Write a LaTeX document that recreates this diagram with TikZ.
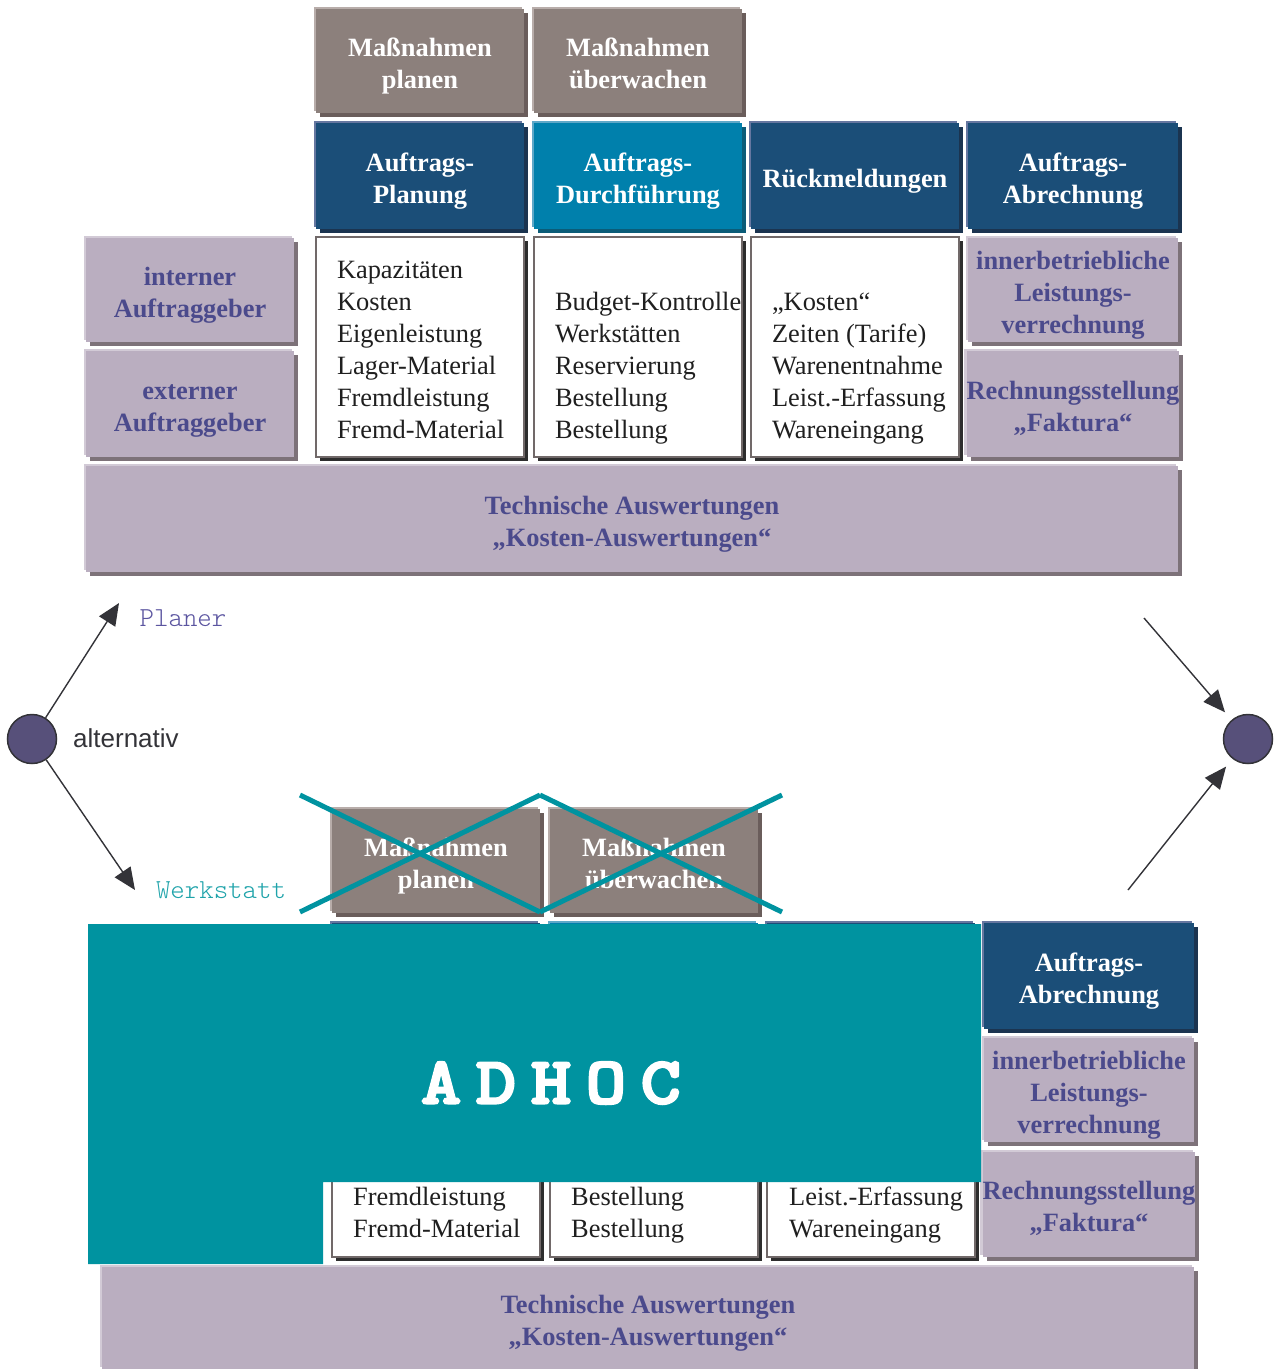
\documentclass[tikz,border=0pt]{standalone}
\usepackage{fontspec}
\setmainfont{Liberation Serif}
\setsansfont{Liberation Sans}
\newfontfamily\adhocfont{lmmonolt10-bold.otf}[FakeBold=3]
\newfontfamily\lightmono{lmmonolt10-regular.otf}
\usetikzlibrary{shadows,arrows.meta}
\definecolor{mfill}{HTML}{8C807C}
\definecolor{medge}{HTML}{B8ADAA}
\definecolor{mshadow}{HTML}{6A5D5B}
\definecolor{bfill}{HTML}{1B4E78}
\definecolor{bedge}{HTML}{6677A0}
\definecolor{bshadow}{HTML}{1B3450}
\definecolor{cfill}{HTML}{0080AC}
\definecolor{cedge}{HTML}{5EA8C8}
\definecolor{cshadow}{HTML}{0B5C78}
\definecolor{lfill}{HTML}{BAAEC0}
\definecolor{ledge}{HTML}{D2CAD6}
\definecolor{lshadow}{HTML}{7D7279}
\definecolor{ltext}{HTML}{4B4A8C}
\definecolor{wborder}{HTML}{716969}
\definecolor{wshadow}{HTML}{2E2E2E}
\definecolor{tealc}{HTML}{0093A0}
\definecolor{circc}{HTML}{57507A}
\definecolor{darkc}{HTML}{333338}
\definecolor{planerc}{HTML}{5B55A0}
\definecolor{werkc}{HTML}{1FA3AA}
% centred block of lines, lowered a little inside its box
\newcommand\ctext[1]{\raisebox{-5pt}[\height][\depth]{\begin{tabular}{@{}c@{}}#1\end{tabular}}}
% left-aligned block of lines for the white boxes
\newcommand\ltext[1]{\makebox[166pt][l]{\raisebox{-5pt}[\height][\depth]{\begin{tabular}{@{}l@{}}#1\end{tabular}}}}
\newcommand\plines[1]{\begin{tabular}{@{}l@{}}#1\end{tabular}}
\tikzset{
  basebox/.style={rectangle, inner sep=0pt, outer sep=0pt,
    font=\bfseries\fontsize{26.4}{32}\selectfont},
  shadowed/.style n args={2}{general shadow={fill=#1, shadow xshift=4pt, shadow yshift=-4pt},
    general shadow={fill=#2, shadow xshift=-2.5pt, shadow yshift=2.5pt}},
  mbox/.style={basebox, fill=mfill, text=white, shadowed={mshadow}{medge}},
  bbox/.style={basebox, fill=bfill, text=white, shadowed={bshadow}{bedge}},
  cbox/.style={basebox, fill=cfill, text=white, shadowed={cshadow}{cedge}},
  lbox/.style={basebox, fill=lfill, text=ltext, shadowed={lshadow}{ledge}},
  wbox/.style={rectangle, outer sep=0pt, inner sep=0pt, fill=white,
    draw=wborder, line width=2.5pt, minimum width=208pt, text=black!88,
    font=\fontsize{26.4}{32}\selectfont,
    general shadow={fill=wshadow, shadow xshift=4pt, shadow yshift=-4pt}},
  wtext/.style={anchor=west, inner sep=0pt, text=black!88,
    font=\fontsize{26.4}{32}\selectfont},
  arr/.style={draw=darkc, line width=1.4pt, -{Triangle[length=22pt, width=19pt]}},
  dot/.style={circle, minimum size=49pt, inner sep=0pt, fill=circc, draw=darkc, line width=1.5pt},
  crossline/.style={draw=tealc, line width=5pt},
}
\begin{document}
\begin{tikzpicture}[x=1pt,y=-1pt]
\useasboundingbox (0,0) rectangle (1275,1369);

% ---------- upper part ----------
\node[mbox, minimum width=208pt, minimum height=104pt] (mp) at (420,61) {\ctext{Maßnahmen\\planen}};
\node[mbox, minimum width=208pt, minimum height=104pt] (mu) at (638,61) {\ctext{Maßnahmen\\überwachen}};

\node[bbox, minimum width=208pt, minimum height=106pt] (ap) at (420,176) {\ctext{Auftrags-\\Planung}};
\node[cbox, minimum width=208pt, minimum height=106pt] (ad) at (638,176) {\ctext{Auftrags-\\Durchführung}};
\node[bbox, minimum width=208pt, minimum height=106pt] (rm) at (855,176) {\ctext{Rückmeldungen}};
\node[bbox, minimum width=210pt, minimum height=106pt] (aa) at (1073,176) {\ctext{Auftrags-\\Abrechnung}};

\node[lbox, minimum width=208pt, minimum height=104pt] (ia) at (190,290) {\ctext{interner\\Auftraggeber}};
\node[lbox, minimum width=208pt, minimum height=106pt] (ea) at (190,404) {\ctext{externer\\Auftraggeber}};

\node[wbox, minimum height=220pt] (w1) at (420,347) {\ltext{Kapazitäten\\Kosten\\Eigenleistung\\Lager-Material\\Fremdleistung\\Fremd-Material}};
\node[wbox, minimum height=220pt] (w2) at (638,347) {\ltext{\\Budget-Kontrolle\\Werkstätten\\Reservierung\\Bestellung\\Bestellung}};
\node[wbox, minimum height=220pt] (w3) at (855,347) {\ltext{\\„Kosten“\\Zeiten (Tarife)\\Warenentnahme\\Leist.-Erfassung\\Wareneingang}};

\node[lbox, minimum width=210pt, minimum height=104pt] (il) at (1073,290) {\ctext{innerbetriebliche\\Leistungs-\\verrechnung}};
\node[lbox, minimum width=210pt, minimum height=106pt] (rf) at (1073,404) {\ctext{Rechnungsstellung\\„Faktura“}};

\node[lbox, minimum width=1092pt, minimum height=106pt] (ta) at (632,519) {\ctext{Technische Auswertungen\\„Kosten-Auswertungen“}};

% ---------- alternative connectors ----------
\node[dot] (lc) at (32,739) {};
\node[dot] (rc) at (1248,739) {};
\coordinate (ptip) at (119,603);
\coordinate (wtip) at (135,890);
\coordinate (ru) at (1144,618);
\coordinate (rl) at (1128,890);
\draw[arr] (lc) -- (ptip);
\draw[arr] (lc) -- (wtip);
\draw[arr, shorten >=10pt] (ru) -- (rc);
\draw[arr, shorten >=10pt] (rl) -- (rc);
\node[anchor=west, inner sep=0pt, text=darkc, font=\sffamily\fontsize{26}{30}\selectfont] (alt) at (73,738) {alternativ};
\node[inner sep=0pt, text=planerc, font=\lightmono\fontsize{27.5}{30}\selectfont] (planer) at (183,618) {Planer};
\node[inner sep=0pt, text=werkc, font=\lightmono\fontsize{27.5}{30}\selectfont] (werk) at (221,890) {Werkstatt};

% ---------- lower part ----------
\node[mbox, minimum width=208pt, minimum height=104pt] (mp2) at (436,861) {\ctext{Maßnahmen\\planen}};
\node[mbox, minimum width=208pt, minimum height=104pt] (mu2) at (654,861) {\ctext{Maßnahmen\\überwachen}};

\node[bbox, minimum width=208pt, minimum height=106pt] (ap2) at (436,976) {};
\node[cbox, minimum width=208pt, minimum height=106pt] (ad2) at (654,976) {};
\node[bbox, minimum width=208pt, minimum height=106pt] (rm2) at (871,976) {};
\node[bbox, minimum width=210pt, minimum height=106pt] (aa2) at (1089,976) {\ctext{Auftrags-\\Abrechnung}};

\node[wbox, minimum height=220pt] (w1b) at (436,1147) {};
\node[wbox, minimum height=220pt] (w2b) at (654,1147) {};
\node[wbox, minimum height=220pt] (w3b) at (871,1147) {};

\node[lbox, minimum width=210pt, minimum height=104pt] (il2) at (1089,1090) {\ctext{innerbetriebliche\\Leistungs-\\verrechnung}};
\node[lbox, minimum width=210pt, minimum height=105pt] (rf2) at (1089,1204.5) {\ctext{Rechnungsstellung\\„Faktura“}};

\node[lbox, minimum width=1092pt, minimum height=102pt] (ta2) at (648,1318) {};
\node[basebox, text=ltext] (ta2t) at (648,1323) {\begin{tabular}{@{}c@{}}Technische Auswertungen\\„Kosten-Auswertungen“\end{tabular}};

% teal ADHOC overlay
\fill[tealc] (88,924) -- (981,924) -- (981,1182) -- (323,1182) -- (323,1264) -- (88,1264) -- cycle;
\node[inner sep=0pt, text=white, font=\adhocfont\fontsize{67}{67}\selectfont] (adhoc) at (551,1083)
  {\scalebox{1.15}[1]{A\hspace{12.6pt}D\hspace{12.6pt}H\hspace{12.6pt}O\hspace{12.6pt}C}};

\node[wtext] (t1b) at (353,1215) {\plines{Fremdleistung\\Fremd-Material}};
\node[wtext] (t2b) at (571,1215) {\plines{Bestellung\\Bestellung}};
\node[wtext] (t3b) at (789,1215) {\plines{Leist.-Erfassung\\Wareneingang}};

% crossing out
\coordinate (c1) at (300,795);
\coordinate (c2) at (300,912);
\coordinate (c3) at (540,795);
\coordinate (c4) at (540,912);
\coordinate (c5) at (782,795);
\coordinate (c6) at (782,912);
\draw[crossline] (c1) -- (c4);
\draw[crossline] (c2) -- (c3);
\draw[crossline] (c3) -- (c6);
\draw[crossline] (c4) -- (c5);
\end{tikzpicture}
\end{document}
